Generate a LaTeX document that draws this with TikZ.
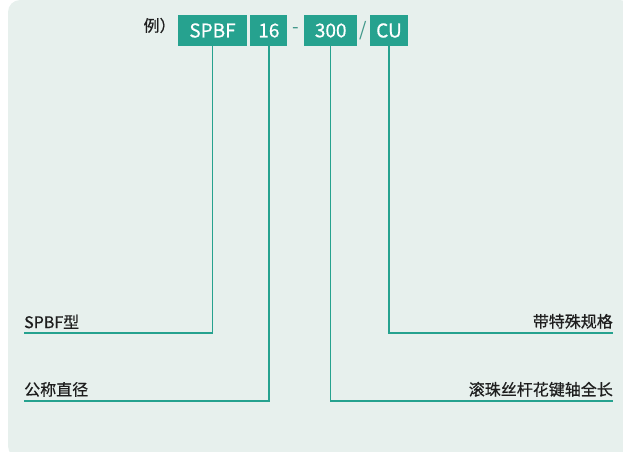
\documentclass[tikz,border=0pt]{standalone}
\usepackage{fontspec}
\setmainfont{Noto Sans CJK SC}
\newfontfamily\heavier[FakeBold=0.6]{Noto Sans CJK SC}
\usepackage{tikz}
\usepackage{xcolor}
\usetikzlibrary{positioning}
\definecolor{codecolor}{RGB}{38, 162, 143}
\definecolor{panelcolor}{RGB}{231, 240, 237}
\definecolor{textcolor}{RGB}{30, 30, 30}
\tikzstyle{codebox} = [
    fill=codecolor,
    text=white,
    minimum height=31pt,
    inner sep=0pt,
    font=\heavier\fontsize{19}{19}\selectfont
]
\tikzstyle{sepmark} = [
    text=codecolor!70!gray,
    minimum height=31pt,
    inner sep=0pt,
    font=\fontsize{19}{19}\selectfont
]
\tikzstyle{keytext} = [
    text=textcolor,
    inner xsep=0pt,
    inner ysep=4pt,
    font=\heavier\fontsize{16}{16}\selectfont
]
\tikzstyle{lead} = [
    draw=codecolor,
    line width=1.2pt
]

\begin{document}
\begin{tikzpicture}[x=1pt, y=-1pt, node distance=0pt and 0pt]
	\useasboundingbox (0,0) rectangle (623,451);
	\clip (0,0) rectangle (623,451);
	\fill[panelcolor, rounded corners=12pt] (8,0) rectangle (632,458);

	%
	% Code boxes
	\node[codebox, minimum width=69pt] (bSPBF) at (212.5,30.5) {SPBF};
	\node[codebox, minimum width=37pt, right=3pt of bSPBF] (b16) {16};
	\node[sepmark, minimum width=16pt, right=of b16] (sDash) {-};
	\node[codebox, minimum width=53pt, right=of sDash] (b300) {300};
	\node[sepmark, minimum width=12pt, right=of b300] (sSlash) {/};
	\node[codebox, minimum width=38pt, right=of sSlash] (bCU) {CU};
	\node[keytext, left=2pt of bSPBF, yshift=5pt] (ex) {例）};

	%
	% Labels
	\node[keytext, anchor=south west] (lSPBF) at (24,333) {SPBF型};
	\node[keytext, anchor=south west] (lDia) at (24,401) {公称直径};
	\node[keytext, anchor=south east] (lLen) at (613,401) {滚珠丝杆花键轴全长};
	\node[keytext, anchor=south east] (lSpec) at (613,333) {带特殊规格};

	%
	% Leaders
	\draw[lead] (bSPBF.south) |- (lSPBF.south west);
	\draw[lead] (b16.south) |- (lDia.south west);
	\draw[lead] (b300.south) |- (lLen.south east);
	\draw[lead] (bCU.south) |- (lSpec.south east);
\end{tikzpicture}
\end{document}
